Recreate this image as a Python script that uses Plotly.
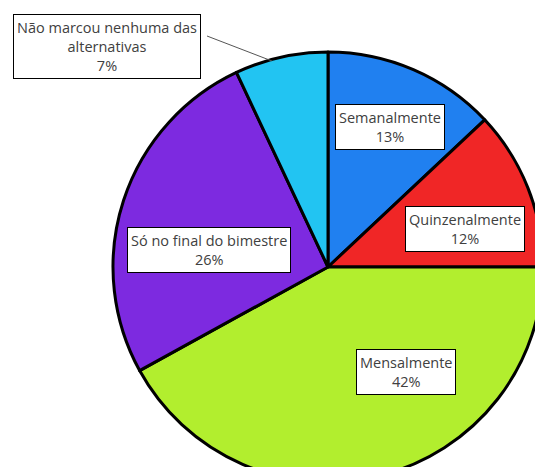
import plotly.graph_objects as go

# ----------------------
# Data
# ----------------------
labels = ["Semanalmente", "Quinzenalmente", "Mensalmente",
          "Só no final do bimestre", "Não marcou nenhuma das alternativas"]
label_text = ["Semanalmente", "Quinzenalmente", "Mensalmente",
              "Só no final do bimestre", "Não marcou nenhuma das<br>alternativas"]
values = [13, 12, 42, 26, 7]
colors = ["#2080F0", "#F02626", "#B2EE2E", "#7D2AE0", "#22C4F2"]

# canvas a bit larger than the window so the pie gets clipped like the original
W, H = 560, 490

# label box centres in pixels (from top-left)
box_pos = [(390, 127), (465, 229), (406, 372), (209, 250), (107, 46)]

fig = go.Figure()
fig.add_trace(go.Pie(
    labels=labels,
    values=values,
    marker=dict(colors=colors, line=dict(color="black", width=3)),
    sort=False,
    direction="clockwise",
    rotation=0,
    textinfo="none",
    hoverinfo="label+percent",
    showlegend=False,
    domain=dict(x=[113 / W, 543 / W], y=[1 - 482 / H, 1 - 52 / H]),
))

for txt, v, (px_, py_) in zip(label_text, values, box_pos):
    fig.add_annotation(
        x=px_ / W, y=1 - py_ / H, xref="paper", yref="paper",
        text=f"{txt}<br>{v}%",
        showarrow=False,
        font=dict(family="Open Sans", size=14.5, color="#404040"),
        bgcolor="white",
        bordercolor="black",
        borderwidth=1,
        borderpad=3,
        xanchor="center", yanchor="middle",
    )

# leader line for the small slice
fig.add_shape(type="line", xref="paper", yref="paper",
              x0=207 / W, y0=1 - 36 / H, x1=272 / W, y1=1 - 61 / H,
              line=dict(color="#555555", width=1))

fig.update_layout(
    width=W, height=H,
    margin=dict(l=0, r=0, t=0, b=0),
    paper_bgcolor="white",
    plot_bgcolor="white",
)

fig.write_html("out.html",
               config={"displayModeBar": False},
               post_script="document.body.style.margin='0';"
                           "document.body.style.overflow='hidden';")
